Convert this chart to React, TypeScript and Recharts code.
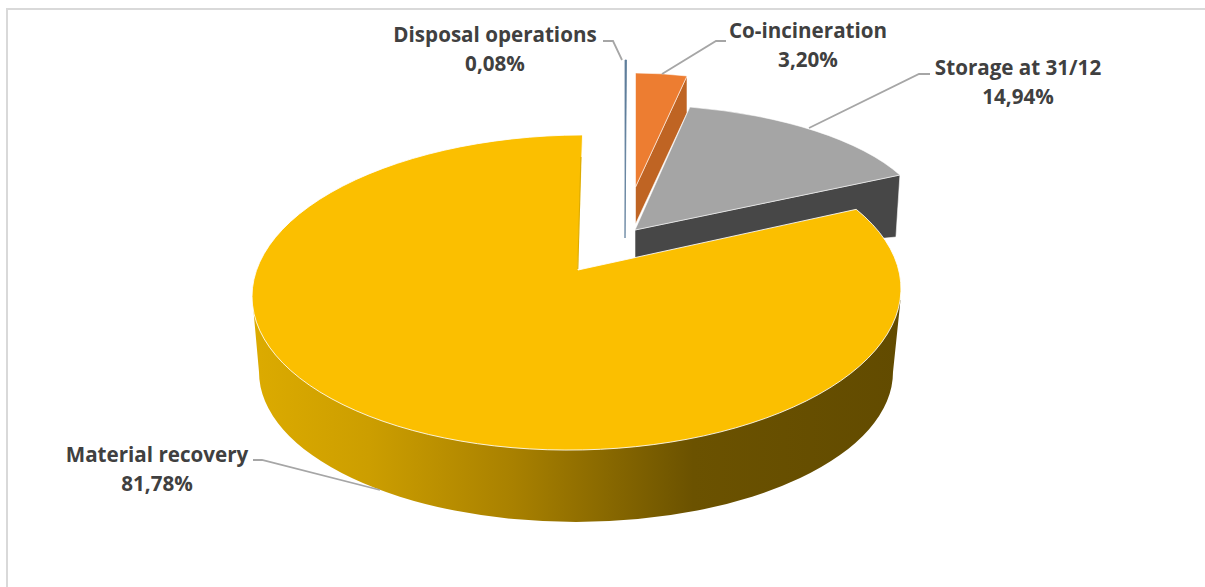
import { PieChart, Pie, Cell } from 'recharts';

const SLICE_NAMES = ['Disposal operations', 'Co-incineration', 'Storage at 31/12', 'Material recovery'];
const SLICE_VALUES = [0.08, 3.2, 14.94, 81.78];
const SLICE_COLORS = ['#5f7f9c', '#ed7d31', '#a5a5a5', '#fbbf00'];
const WALL_COLORS = ['#5f7f9c', '#bf6423', '#474747', 'url(#materialWall)'];

const chartData = SLICE_NAMES.map((name, i) => ({ name, value: SLICE_VALUES[i], color: SLICE_COLORS[i] }));

// the pie is drawn in fake 3D: each slice has its own squashed ellipse, apex and wall
const VIEW = [
  { ex: 625, ey: 218, rx: 300, ry: 158, ax: 625, ay: 238, shift: 0, endShift: 0, tilt: 0, apexDrop: 0, rimDrop: 0, rimShift: 0 },
  { ex: 634.2, ey: 214, rx: 258, ry: 141, ax: 635.5, ay: 187, shift: 0, endShift: 0, tilt: 0, apexDrop: 37, rimDrop: 37, rimShift: 0 },
  { ex: 629, ey: 224.7, rx: 297.5, ry: 120.2, ax: 635, ay: 230, shift: 0, endShift: 0, tilt: 0, apexDrop: 32, rimDrop: 62, rimShift: -4 },
  { ex: 576.5, ey: 292.5, rx: 324.5, ry: 157.5, ax: 578, ay: 270, shift: 5.6, endShift: -1.5, tilt: -0.9, apexDrop: 0, rimDrop: 0, rimShift: 0 },
];

const LABELS = [
  { x: 495, y: 42, line: '622,60 613,41 603,41' },
  { x: 808, y: 38, line: '662,74 716,41 726,41' },
  { x: 1018, y: 75, line: '809,128 919,74 930,74' },
  { x: 157, y: 462, line: '380,490 262,460 253,460' },
];

const onEllipse = (v: (typeof VIEW)[number], angle: number) => {
  const a = (angle * Math.PI) / 180;
  const t = (v.tilt * Math.PI) / 180;
  const px = v.rx * Math.cos(a);
  const py = -v.ry * Math.sin(a);
  return {
    x: v.ex + px * Math.cos(t) - py * Math.sin(t),
    y: v.ey + px * Math.sin(t) + py * Math.cos(t),
  };
};

function SliceShape(props: any) {
  const index = SLICE_NAMES.indexOf(props.name);
  const v = VIEW[index];
  const from = onEllipse(v, props.startAngle + v.shift);
  const to = onEllipse(v, props.endAngle + v.endShift);
  const large = Math.abs(props.endAngle - props.startAngle) > 180 ? 1 : 0;
  const top = `M${v.ax},${v.ay} L${from.x},${from.y} A${v.rx},${v.ry} ${v.tilt} ${large} 1 ${to.x},${to.y} Z`;

  if (index === 0) {
    return <path d={top} fill={props.fill} stroke={props.fill} strokeWidth={0.8} />;
  }

  if (index === 3) {
    return (
      <g>
        <defs>
          <linearGradient id="materialWall" gradientUnits="userSpaceOnUse" x1="252" y1="0" x2="901" y2="0">
            <stop offset="0" stopColor="#dcab00" />
            <stop offset="0.18" stopColor="#cc9e00" />
            <stop offset="0.4" stopColor="#a98100" />
            <stop offset="0.68" stopColor="#6b5200" />
            <stop offset="1" stopColor="#624b00" />
          </linearGradient>
        </defs>
        <path d="M252.5,300 L259,372 A317,150 0 0 0 893,372 L900.5,300 Z" fill={WALL_COLORS[index]} />
        <path d={top} fill={props.fill} stroke="#ffffff" strokeOpacity={0.85} strokeWidth={1} />
        <line x1={to.x - 1.6} y1={to.y + 22} x2={v.ax - 0.2} y2={v.ay - 1} stroke="#dcab00" strokeWidth={1.1} />
      </g>
    );
  }

  // a back slice: wall first, then the top surface
  const wall = `M${v.ax},${v.ay} L${to.x},${to.y} L${to.x + v.rimShift},${to.y + v.rimDrop} L${v.ax},${v.ay + v.apexDrop} Z`;
  return (
    <g>
      <path d={wall} fill={WALL_COLORS[index]} stroke="#ffffff" strokeOpacity={0.7} strokeWidth={0.8} />
      <path d={top} fill={props.fill} stroke="#ffffff" strokeOpacity={0.7} strokeWidth={0.8} />
    </g>
  );
}

function SliceLabel(props: any) {
  const spot = LABELS[props.index];
  const percent = props.value.toFixed(2).replace('.', ',') + '%';
  return (
    <g>
      <polyline points={spot.line} fill="none" stroke="#a6a6a6" strokeWidth={1.8} />
      <text x={spot.x} textAnchor="middle" fill="#404040" fontFamily="Open Sans" fontWeight={700} fontSize={20.6}>
        <tspan x={spot.x} y={spot.y}>{props.name}</tspan>
        <tspan x={spot.x} y={spot.y + 29}>{percent}</tspan>
      </text>
    </g>
  );
}

export default function App() {
  return (
    <div style={{ position: 'absolute', left: 0, top: 0, width: 1205, height: 587, overflow: 'hidden', background: '#ffffff' }}>
      <div style={{ position: 'absolute', left: 6, top: 8, width: 1300, height: 700, borderLeft: '2px solid #d9d9d9', borderTop: '2px solid #d9d9d9' }} />
      <div style={{ position: 'absolute', left: 0, top: 0 }}>
        <PieChart width={1205} height={587} margin={{ top: 0, right: 0, bottom: 0, left: 0 }}>
          <Pie
            data={chartData}
            dataKey="value"
            nameKey="name"
            cx={577}
            cy={292}
            outerRadius={160}
            startAngle={90}
            endAngle={-270}
            stroke="none"
            shape={SliceShape}
            label={SliceLabel}
            labelLine={false}
            isAnimationActive={false}
          >
            {chartData.map((entry, index) => (
              <Cell key={`cell-${index}`} fill={entry.color} />
            ))}
          </Pie>
        </PieChart>
      </div>
    </div>
  );
}
